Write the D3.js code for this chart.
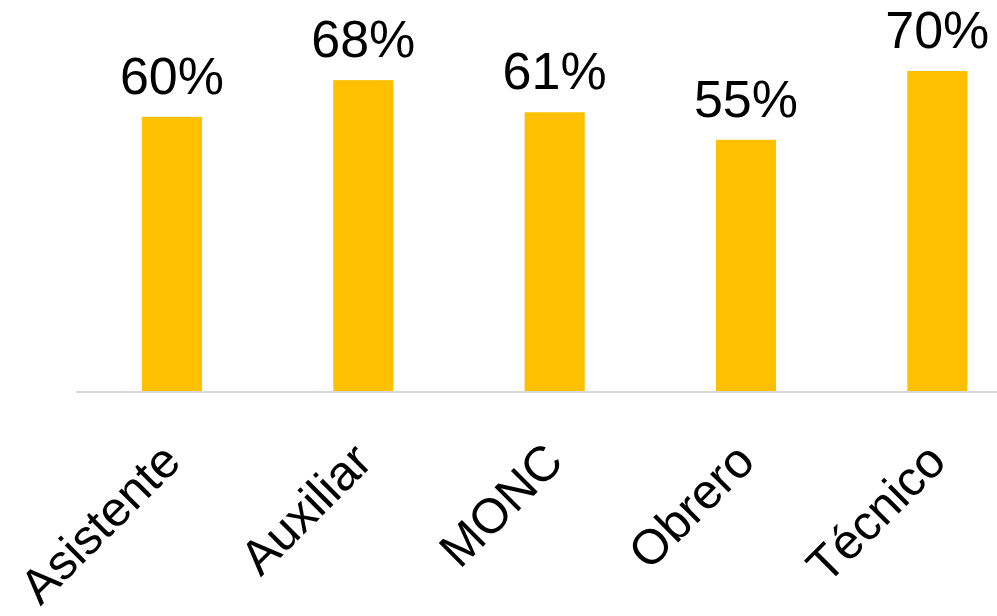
<!DOCTYPE html>
<html><head><meta charset="utf-8">
<script src="https://cdn.jsdelivr.net/npm/d3@7/dist/d3.min.js"></script>
<style>html,body{margin:0;padding:0;background:#fff;overflow:hidden}</style>
</head><body><svg id="c" width="997" height="616"></svg>
<script>
const categories = ["Asistente","Auxiliar","MONC","Obrero","Técnico"];
const values = [0.60,0.68,0.61,0.55,0.70];
const labels = ["60%","68%","61%","55%","70%"];

const svg = d3.select("#c");
const font = "'Liberation Sans', Arial, sans-serif";
const x = d3.scaleBand().domain(categories).range([76.3, 1033]).paddingInner(0.686).paddingOuter(0.343);
const y = d3.scaleLinear().domain([0, 0.70]).range([392, 71]);

svg.selectAll("rect.bar").data(values).join("rect")
  .attr("class","bar")
  .attr("x",(d,i)=>x(categories[i]))
  .attr("width",x.bandwidth())
  .attr("y",d=>y(d))
  .attr("height",d=>y(0)-y(d))
  .attr("fill","#FFC000");

const ax = svg.append("g").attr("transform","translate(0,392)")
  .call(d3.axisBottom(x).tickSize(0).tickPadding(0));
ax.select(".domain").attr("stroke","#d9d9d9").attr("stroke-width",2).attr("d","M76,0H997");
ax.selectAll(".tick text")
  .attr("font-family",font).attr("font-size",49).attr("fill","#000")
  .attr("text-anchor","end").attr("dy","0.72em")
  .attr("transform","translate(-14,47) rotate(-45)");

svg.selectAll("text.val").data(values).join("text")
  .attr("class","val")
  .attr("x",(d,i)=>x(categories[i])+x.bandwidth()/2)
  .attr("y",d=>y(d)-23)
  .attr("text-anchor","middle")
  .attr("font-family",font).attr("font-size",52).attr("fill","#000")
  .text((d,i)=>labels[i]);
</script></body></html>
